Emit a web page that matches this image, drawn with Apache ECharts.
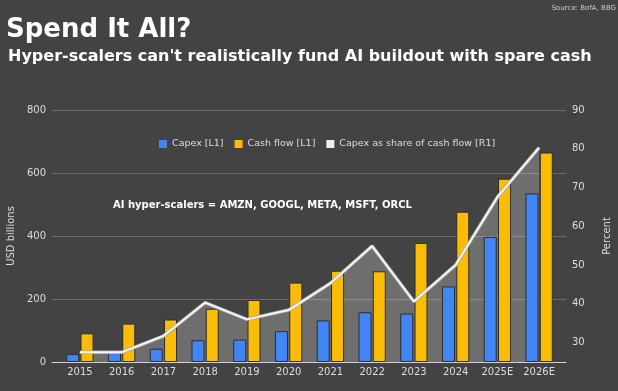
<!DOCTYPE html>
<html>
<head>
<meta charset="utf-8">
<script src="https://cdn.jsdelivr.net/npm/echarts@6/dist/echarts.min.js"></script>
<style>
html,body{margin:0;padding:0;background:#434343;}
#chart{width:618px;height:391px;}
</style>
</head>
<body>
<div id="chart"></div>
<script>
const categories = ['2015','2016','2017','2018','2019','2020','2021','2022','2023','2024','2025E','2026E'];
const capex = [25, 30, 42, 69, 71, 98, 132, 158, 154, 240, 397, 535];
const cashFlow = [91, 122, 135, 169, 197, 252, 290, 288, 378, 477, 582, 665];
const capexShare = [27.5, 27.5, 31.7, 40.3, 36.0, 38.4, 45.3, 54.9, 40.6, 50.0, 67.5, 80.3];
const leftTicks = [0, 200, 400, 600, 800];
const rightTicks = [30, 40, 50, 60, 70, 80, 90];

const FONT = 'DejaVu Sans';
const chart = echarts.init(document.getElementById('chart'), null, {renderer: 'canvas'});

const option = {
  backgroundColor: '#434343',
  animation: false,
  textStyle: {fontFamily: FONT},
  title: [
    {text: 'Spend It All?', left: 6, top: 17, padding: 0,
     textStyle: {color: '#ffffff', fontSize: 26, fontWeight: 'bold', fontFamily: FONT}},
    {text: "Hyper-scalers can't realistically fund AI buildout with spare cash", left: 8, top: 49, padding: 0,
     textStyle: {color: '#ffffff', fontSize: 16, fontWeight: 'bold', fontFamily: FONT}},
    {text: 'Source: BofA, BBG', right: 2, top: 5, padding: 0,
     textStyle: {color: '#cccccc', fontSize: 7, fontWeight: 'normal', fontFamily: FONT}}
  ],
  legend: {
    top: 134, left: 154,
    itemWidth: 8, itemHeight: 8, itemGap: 11,
    icon: 'rect',
    data: [
      {name: 'Capex [L1]', itemStyle: {color: '#4285f4', borderWidth: 0}},
      {name: 'Cash flow [L1]', itemStyle: {color: '#fbbc05', borderWidth: 0}},
      {name: 'Capex as share of cash flow [R1]', itemStyle: {color: '#eeeeee', borderWidth: 0}}
    ],
    textStyle: {color: '#dddddd', fontSize: 9.5, fontFamily: FONT}
  },
  graphic: [
    {type: 'text', left: 113, top: 200,
     style: {text: 'AI hyper-scalers = AMZN, GOOGL, META, MSFT, ORCL', fill: '#ffffff',
             font: 'bold 10px "DejaVu Sans"'}}
  ],
  grid: [
    {left: 59, right: 58, top: 110, bottom: 29, outerBoundsMode: 'none', containLabel: false},
    {left: 52, right: 52, top: 110, bottom: 29, outerBoundsMode: 'none', containLabel: false}
  ],
  xAxis: [
    {type: 'category', gridIndex: 0, data: categories,
     axisLine: {show: false}, axisTick: {show: false},
     axisLabel: {color: '#dddddd', fontSize: 10, margin: 5, fontFamily: FONT, interval: 0}},
    {type: 'category', gridIndex: 1, data: categories,
     axisLine: {show: true, lineStyle: {color: '#d0d0d0', width: 1}},
     axisTick: {show: false}, axisLabel: {show: false}}
  ],
  yAxis: [
    {type: 'value', gridIndex: 0, min: 0, max: 800, interval: 200, show: false},
    {type: 'value', gridIndex: 0, min: 25, max: 90, interval: 5, show: false},
    {type: 'value', gridIndex: 1, min: 0, max: 800, interval: 200,
     name: 'USD billions', nameLocation: 'middle', nameGap: 36, nameRotate: 90,
     nameTextStyle: {color: '#dddddd', fontSize: 10, fontFamily: FONT},
     axisLine: {show: false}, axisTick: {show: false},
     axisLabel: {color: '#dddddd', fontSize: 10, margin: 6, fontFamily: FONT,
                 formatter: v => leftTicks.includes(v) ? String(v) : ''},
     splitLine: {show: true, lineStyle: {color: '#6b6b6b', width: 1}}},
    {type: 'value', gridIndex: 1, position: 'right', min: 25, max: 90, interval: 5,
     name: 'Percent', nameLocation: 'middle', nameGap: 36, nameRotate: 90,
     nameTextStyle: {color: '#dddddd', fontSize: 10, fontFamily: FONT},
     axisLine: {show: false}, axisTick: {show: false}, splitLine: {show: false},
     axisLabel: {color: '#dddddd', fontSize: 10, margin: 6, fontFamily: FONT,
                 formatter: v => rightTicks.includes(v) ? String(v) : ''}}
  ],
  series: [
    {name: 'area', type: 'line', xAxisIndex: 0, yAxisIndex: 1, data: capexShare,
     symbol: 'none', lineStyle: {width: 0}, z: 1, silent: true,
     areaStyle: {color: 'rgba(255,255,255,0.33)', origin: 'start'}},
    {name: 'Capex [L1]', type: 'bar', xAxisIndex: 0, yAxisIndex: 0, data: capex,
     barWidth: 13, barGap: '10%', z: 2,
     itemStyle: {color: '#4285f4', borderColor: '#2e2e2e', borderWidth: 1}},
    {name: 'Cash flow [L1]', type: 'bar', xAxisIndex: 0, yAxisIndex: 0, data: cashFlow,
     barWidth: 13, barGap: '10%', z: 2,
     itemStyle: {color: '#fbbc05', borderColor: '#2e2e2e', borderWidth: 1}},
    {name: 'outline', type: 'line', xAxisIndex: 0, yAxisIndex: 1, data: capexShare,
     symbol: 'none', z: 3, silent: true,
     lineStyle: {color: '#a8a8a8', width: 3.5}},
    {name: 'Capex as share of cash flow [R1]', type: 'line', xAxisIndex: 0, yAxisIndex: 1, data: capexShare,
     symbol: 'none', z: 4, itemStyle: {color: '#eeeeee'},
     lineStyle: {color: '#f6f6f6', width: 2}}
  ]
};
chart.setOption(option);
</script>
</body>
</html>
